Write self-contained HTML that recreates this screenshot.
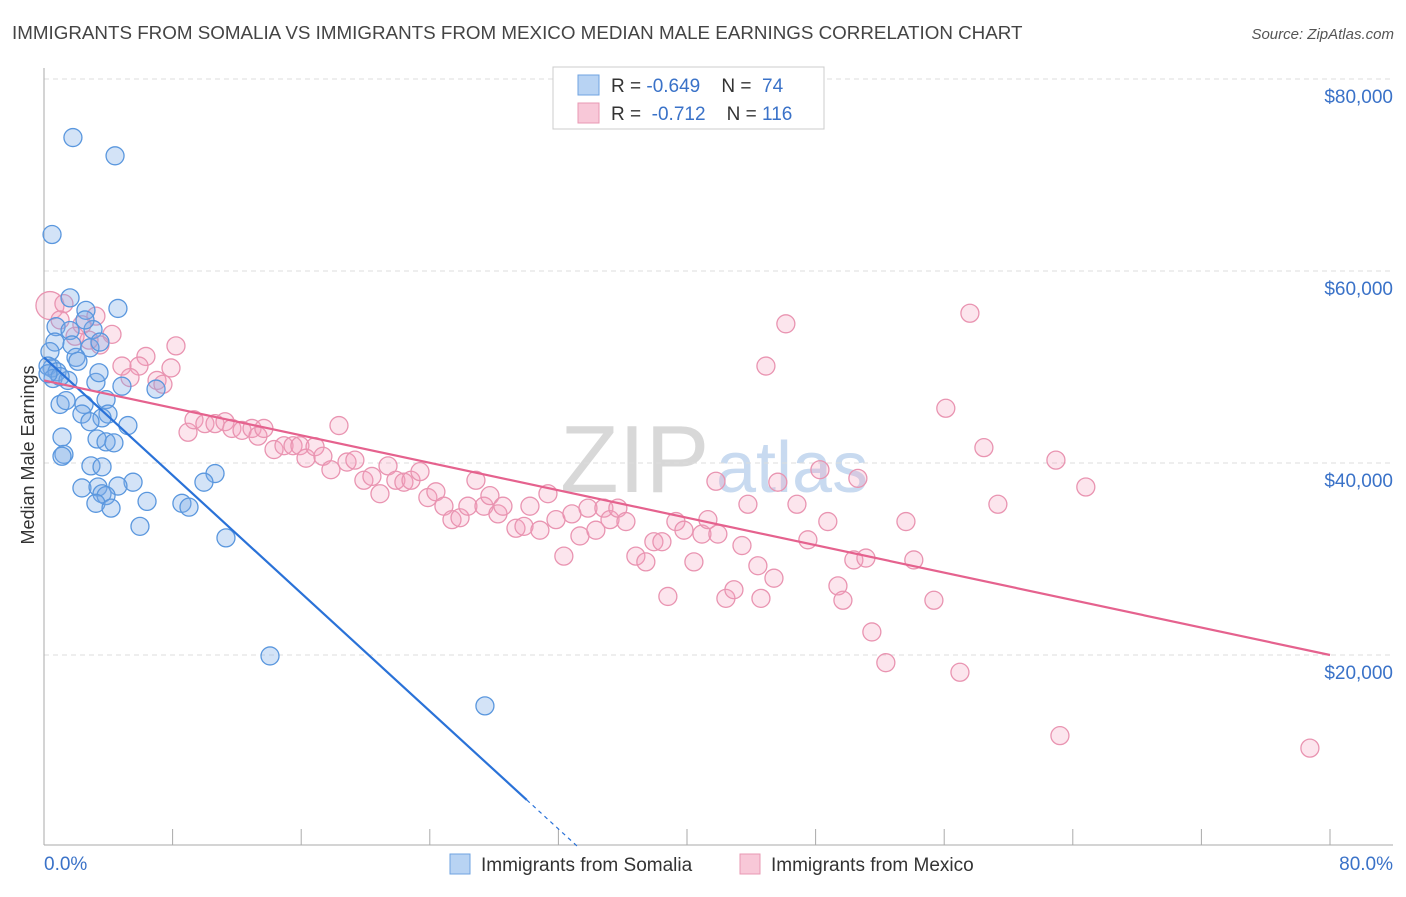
<!DOCTYPE html>
<html><head><meta charset="utf-8"><style>
body{margin:0;background:#fff;font-family:"Liberation Sans",sans-serif;}
svg text{font-family:"Liberation Sans",sans-serif;white-space:pre;}
</style></head><body>
<svg id="chart" width="1406" height="892" xmlns="http://www.w3.org/2000/svg">
<text x="12" y="39" font-size="18.8" fill="#444">IMMIGRANTS FROM SOMALIA VS IMMIGRANTS FROM MEXICO MEDIAN MALE EARNINGS CORRELATION CHART</text>
<text x="1394" y="39" font-size="15" fill="#555" font-style="italic" text-anchor="end">Source: ZipAtlas.com</text>
<text x="560" y="492" font-size="96" fill="#d8d8d8" font-family="Liberation Serif">ZIP</text>
<text x="716" y="492" font-size="72" fill="#c8daf0">atlas</text>
<g id="grid"></g>
<g id="axes"></g>
<g id="pts"></g>
<g id="lines"></g>
<text transform="translate(34,455) rotate(-90)" font-size="18" fill="#333" text-anchor="middle">Median Male Earnings</text>
<text x="44" y="870" font-size="19" fill="#3a72c8">0.0%</text>
<text x="1393" y="870" font-size="19" fill="#3a72c8" text-anchor="end">80.0%</text>
<g>
<rect x="553" y="67" width="271" height="62" fill="#fff" stroke="#ccc"/>
<rect x="578" y="75" width="21" height="20" fill="#b8d3f3" stroke="#6fa3e0"/>
<rect x="578" y="103" width="21" height="20" fill="#f8c8d8" stroke="#e899b3"/>
<text x="611" y="92" font-size="19" fill="#333" xml:space="preserve">R = <tspan fill="#3a72c8">-0.649</tspan>    N =  <tspan fill="#3a72c8">74</tspan></text>
<text x="611" y="120" font-size="19" fill="#333" xml:space="preserve">R =  <tspan fill="#3a72c8">-0.712</tspan>    N = <tspan fill="#3a72c8">116</tspan></text>
</g>
<g>
<rect x="450" y="854" width="20" height="20" fill="#b8d3f3" stroke="#6fa3e0"/>
<text x="481" y="871" font-size="19" fill="#333">Immigrants from Somalia</text>
<rect x="740" y="854" width="20" height="20" fill="#f8c8d8" stroke="#e899b3"/>
<text x="771" y="871" font-size="19" fill="#333">Immigrants from Mexico</text>
</g>
</svg>
<script>
const yTicks=[20,40,60,80];
const yTickLabels=["$20,000","$40,000","$60,000","$80,000"];
const xTicks=[0,8,16,24,32,40,48,56,64,72,80];
const somaliaX=[1.80,4.42,0.50,1.62,2.61,4.60,0.75,1.62,3.05,0.68,1.74,2.86,1.99,0.37,2.11,0.50,0.25,0.81,0.56,3.23,1.49,3.42,4.85,6.97,1.00,1.37,2.49,3.86,2.36,3.98,3.61,2.86,5.22,1.12,3.30,3.86,4.35,1.24,2.92,1.12,3.61,10.64,5.54,9.95,2.36,3.36,4.60,3.61,3.86,6.41,8.58,3.23,9.02,4.17,5.97,11.32,14.06,27.43,1.00,0.25,2.55,3.48];
const somaliaY=[73.9,72.0,63.8,57.2,55.9,56.1,54.2,53.8,53.9,52.6,52.3,52.0,51.0,51.6,50.6,49.9,50.1,49.5,48.8,48.4,48.6,49.4,48.0,47.7,46.1,46.5,46.1,46.6,45.1,45.1,44.7,44.3,43.9,42.7,42.5,42.2,42.1,40.9,39.7,40.7,39.6,38.9,38.0,38.0,37.4,37.5,37.6,36.8,36.6,36.0,35.8,35.8,35.4,35.3,33.4,32.2,19.9,14.7,49.0,49.3,54.9,52.6];
const mexicoX=[0.37,1.24,3.23,2.36,4.23,3.48,2.80,8.21,6.34,4.85,7.90,5.91,7.03,7.40,5.35,1.00,1.93,8.96,9.33,10.01,10.64,11.26,11.69,12.32,12.94,13.31,13.68,14.31,14.93,15.49,15.92,16.30,16.86,17.35,17.85,18.35,18.85,19.34,19.90,20.40,20.90,21.40,21.89,22.39,22.83,23.39,23.88,24.38,24.88,25.38,25.88,26.37,26.87,27.37,27.74,28.24,28.55,29.36,29.86,30.23,30.85,31.35,31.85,32.34,32.84,33.34,33.84,34.33,34.83,35.21,35.70,36.20,36.82,37.44,37.94,38.44,38.81,39.31,39.81,40.43,40.93,41.30,41.92,42.42,42.92,43.42,43.79,44.41,44.91,45.41,45.65,46.15,46.84,47.52,48.27,48.76,49.39,49.70,50.38,50.63,51.13,51.50,52.37,53.62,54.11,55.36,56.10,56.98,57.60,58.47,59.34,62.95,63.20,64.81,78.75,41.80,44.60];
const mexicoY=[56.4,56.6,55.3,54.4,53.4,52.3,52.8,52.2,51.1,50.1,49.9,50.1,48.6,48.2,48.9,54.9,53.2,43.2,44.5,44.1,44.1,44.3,43.6,43.4,43.6,42.8,43.6,41.4,41.8,41.8,41.8,40.5,41.7,40.7,39.3,43.9,40.1,40.3,38.2,38.6,36.8,39.7,38.2,38.0,38.2,39.1,36.4,37.0,35.5,34.1,34.3,35.5,38.2,35.5,36.6,34.7,35.5,33.2,33.4,35.5,33.0,36.8,34.1,30.3,34.7,32.4,35.3,33.0,35.3,34.1,35.3,33.9,30.3,29.7,31.8,31.8,26.1,33.9,33.0,29.7,32.6,34.1,32.6,25.9,26.8,31.4,35.7,29.3,50.1,28.0,38.0,54.5,35.7,32.0,39.3,33.9,27.2,25.7,29.9,38.4,30.1,22.4,19.2,33.9,29.9,25.7,45.7,18.2,55.6,41.6,35.7,40.3,11.6,37.5,10.3,38.1,25.9];
const somaliaTrend=[51.0,-1.535];
const mexicoTrend=[48.6,-0.3575];
const NS="http://www.w3.org/2000/svg";
const X0=44,X1=1330,YB=847,YPX=9.6;
function sx(v){return X0+(v/80)*(X1-X0);}
function sy(v){return YB-v*YPX;}
function mk(tag,attrs,parent){const e=document.createElementNS(NS,tag);for(const k in attrs)e.setAttribute(k,attrs[k]);parent.appendChild(e);return e;}
const gridG=document.getElementById('grid'),axesG=document.getElementById('axes'),ptsG=document.getElementById('pts'),linesG=document.getElementById('lines');
yTicks.forEach((t,i)=>{
 const l=mk('line',{x1:44,x2:1393,y1:sy(t),y2:sy(t),stroke:'#ddd','stroke-dasharray':'5,4'},gridG);
 
 
 const tx=mk('text',{x:1393,y:sy(t)+24,'font-size':19,fill:'#3a72c8','text-anchor':'end'},axesG);
 tx.textContent=yTickLabels[i];
 
 
});
const topGrid=mk('line',{x1:44,x2:1393,y1:79,y2:79,stroke:'#ddd','stroke-dasharray':'5,4'},gridG);


mk('line',{x1:44,x2:44,y1:68,y2:845,stroke:'#aaa'},axesG);
mk('line',{x1:44,x2:1393,y1:845,y2:845,stroke:'#aaa'},axesG);
xTicks.forEach(t=>{
 const l=mk('line',{x1:sx(t),x2:sx(t),y1:829,y2:845,stroke:'#aaa'},axesG);
 
 
});
mexicoX.forEach((x,i)=>{
 const c=mk('circle',{cx:sx(x),cy:sy(mexicoY[i]),r:i===0?14:9,fill:'rgba(244,160,190,0.28)',stroke:'#e994b1','stroke-width':1.3},ptsG);
 
 
});
somaliaX.forEach((x,i)=>{
 const c=mk('circle',{cx:sx(x),cy:sy(somaliaY[i]),r:9,fill:'rgba(120,170,232,0.33)',stroke:'#5a97de','stroke-width':1.3},ptsG);
 
 
});
const bEnd=(4.9-somaliaTrend[0])/somaliaTrend[1];
const bZero=-somaliaTrend[0]/somaliaTrend[1];
const bl=mk('line',{x1:sx(0),y1:sy(somaliaTrend[0]),x2:sx(bEnd),y2:sy(somaliaTrend[0]+somaliaTrend[1]*bEnd),stroke:'#2a72d8','stroke-width':2.2},linesG);


const bd=mk('line',{x1:sx(bEnd),y1:sy(somaliaTrend[0]+somaliaTrend[1]*bEnd),x2:sx(bZero),y2:sy(0),stroke:'#2a72d8','stroke-width':1.2,'stroke-dasharray':'4,4'},linesG);


const pl=mk('line',{x1:sx(0),y1:sy(mexicoTrend[0]),x2:sx(80),y2:sy(mexicoTrend[0]+mexicoTrend[1]*80),stroke:'#e5628e','stroke-width':2.2},linesG);


</script>
</body></html>
